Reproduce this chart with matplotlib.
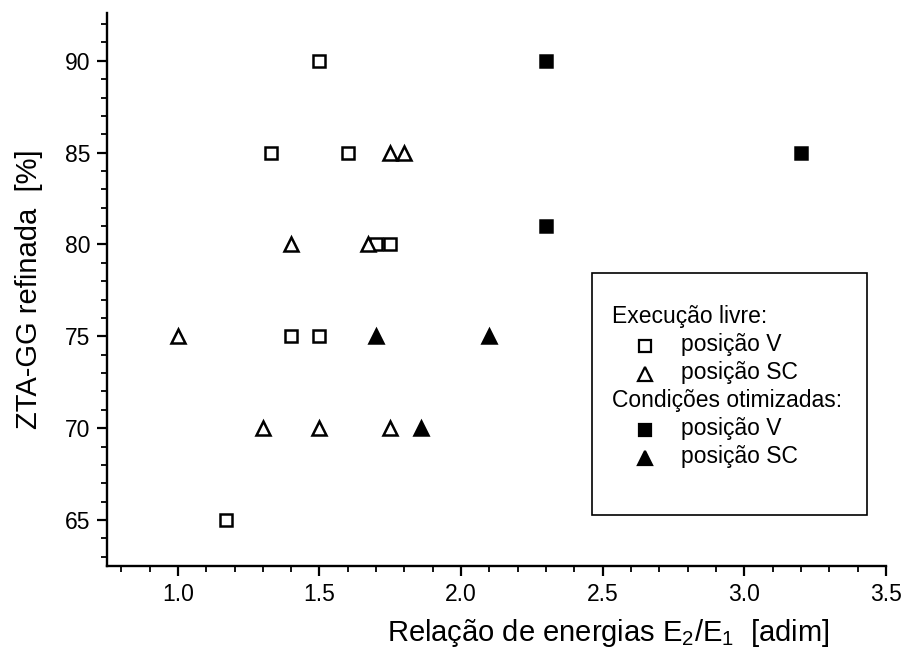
import matplotlib
matplotlib.use("Agg")
import matplotlib.pyplot as plt
from matplotlib.lines import Line2D
from matplotlib.patches import Rectangle
from matplotlib.offsetbox import AnchoredOffsetbox, VPacker, HPacker, TextArea, DrawingArea
from matplotlib.ticker import MultipleLocator, FormatStrFormatter

plt.rcParams['font.family'] = ['Liberation Sans', 'DejaVu Sans']
plt.rcParams['mathtext.default'] = 'regular'

# Execução livre
livre_v_x = [1.50, 1.33, 1.60, 1.70, 1.75, 1.40, 1.50, 1.17]
livre_v_y = [90, 85, 85, 80, 80, 75, 75, 65]
livre_sc_x = [1.75, 1.80, 1.40, 1.67, 1.00, 1.30, 1.50, 1.75]
livre_sc_y = [85, 85, 80, 80, 75, 70, 70, 70]

# Condições otimizadas
otim_v_x = [2.30, 3.20, 2.30]
otim_v_y = [90, 85, 81]
otim_sc_x = [1.70, 2.10, 1.86]
otim_sc_y = [75, 75, 70]

fig = plt.figure(figsize=(9.04, 6.5), dpi=100)
ax = fig.add_axes([0.1184, 0.1292, 0.8617, 0.8508])

sq = dict(ls='none', marker='s', ms=8.5, mew=1.8, mec='black')
tri = dict(ls='none', marker='^', ms=10, mew=1.8, mec='black')

ax.plot(livre_v_x, livre_v_y, mfc='white', **sq)
ax.plot(livre_sc_x, livre_sc_y, mfc='white', **tri)
ax.plot(otim_v_x, otim_v_y, mfc='black', **sq)
ax.plot(otim_sc_x, otim_sc_y, mfc='black', **tri)

ax.set_xlim(0.75, 3.5)
ax.set_ylim(62.5, 92.6)
ax.xaxis.set_major_locator(MultipleLocator(0.5))
ax.xaxis.set_minor_locator(MultipleLocator(0.1))
ax.yaxis.set_major_locator(MultipleLocator(5))
ax.yaxis.set_minor_locator(MultipleLocator(1))
ax.xaxis.set_major_formatter(FormatStrFormatter('%.1f'))

for side in ['top', 'right']:
    ax.spines[side].set_visible(False)
for side in ['left', 'bottom']:
    ax.spines[side].set_linewidth(1.7)
ax.tick_params(which='major', direction='out', length=7, width=1.6, labelsize=16.5, pad=5)
ax.tick_params(which='minor', direction='out', length=4, width=1.3)

ax.set_xlabel('Relação de energias E$_2$/E$_1$  [adim]', fontsize=21, x=0.644, labelpad=8)
ax.set_ylabel('ZTA-GG refinada  [%]', fontsize=21, labelpad=16)

# legend box with group headers
ax.add_patch(Rectangle((0.6226, 0.0922), 0.353, 0.4376, transform=ax.transAxes,
                       fill=False, edgecolor='black', lw=1.2, zorder=5))

groups = [
    ('Execução livre:', [('s', 'white', 'posição V'), ('^', 'white', 'posição SC')]),
    ('Condições otimizadas:', [('s', 'black', 'posição V'), ('^', 'black', 'posição SC')]),
]
txt = dict(size=16.5)
rows = []
for header, entries in groups:
    rows.append(TextArea(header, textprops=txt))
    for marker, fill, label in entries:
        da = DrawingArea(45, 14, 0, 0)
        ms = 8 if marker == 's' else 10
        da.add_artist(Line2D([24], [6], ls='none', marker=marker, ms=ms, mew=1.6,
                             mfc=fill, mec='black'))
        rows.append(HPacker(children=[da, TextArea(label, textprops=txt)],
                            sep=5, align='center', pad=0))
box = VPacker(children=rows, align='left', sep=3.6, pad=0)
anchored = AnchoredOffsetbox(loc='upper left', child=box, pad=0, borderpad=0, frameon=False,
                             bbox_to_anchor=(0.6483, 0.472), bbox_transform=ax.transAxes)
ax.add_artist(anchored)

fig.savefig('out.png', dpi=100)
